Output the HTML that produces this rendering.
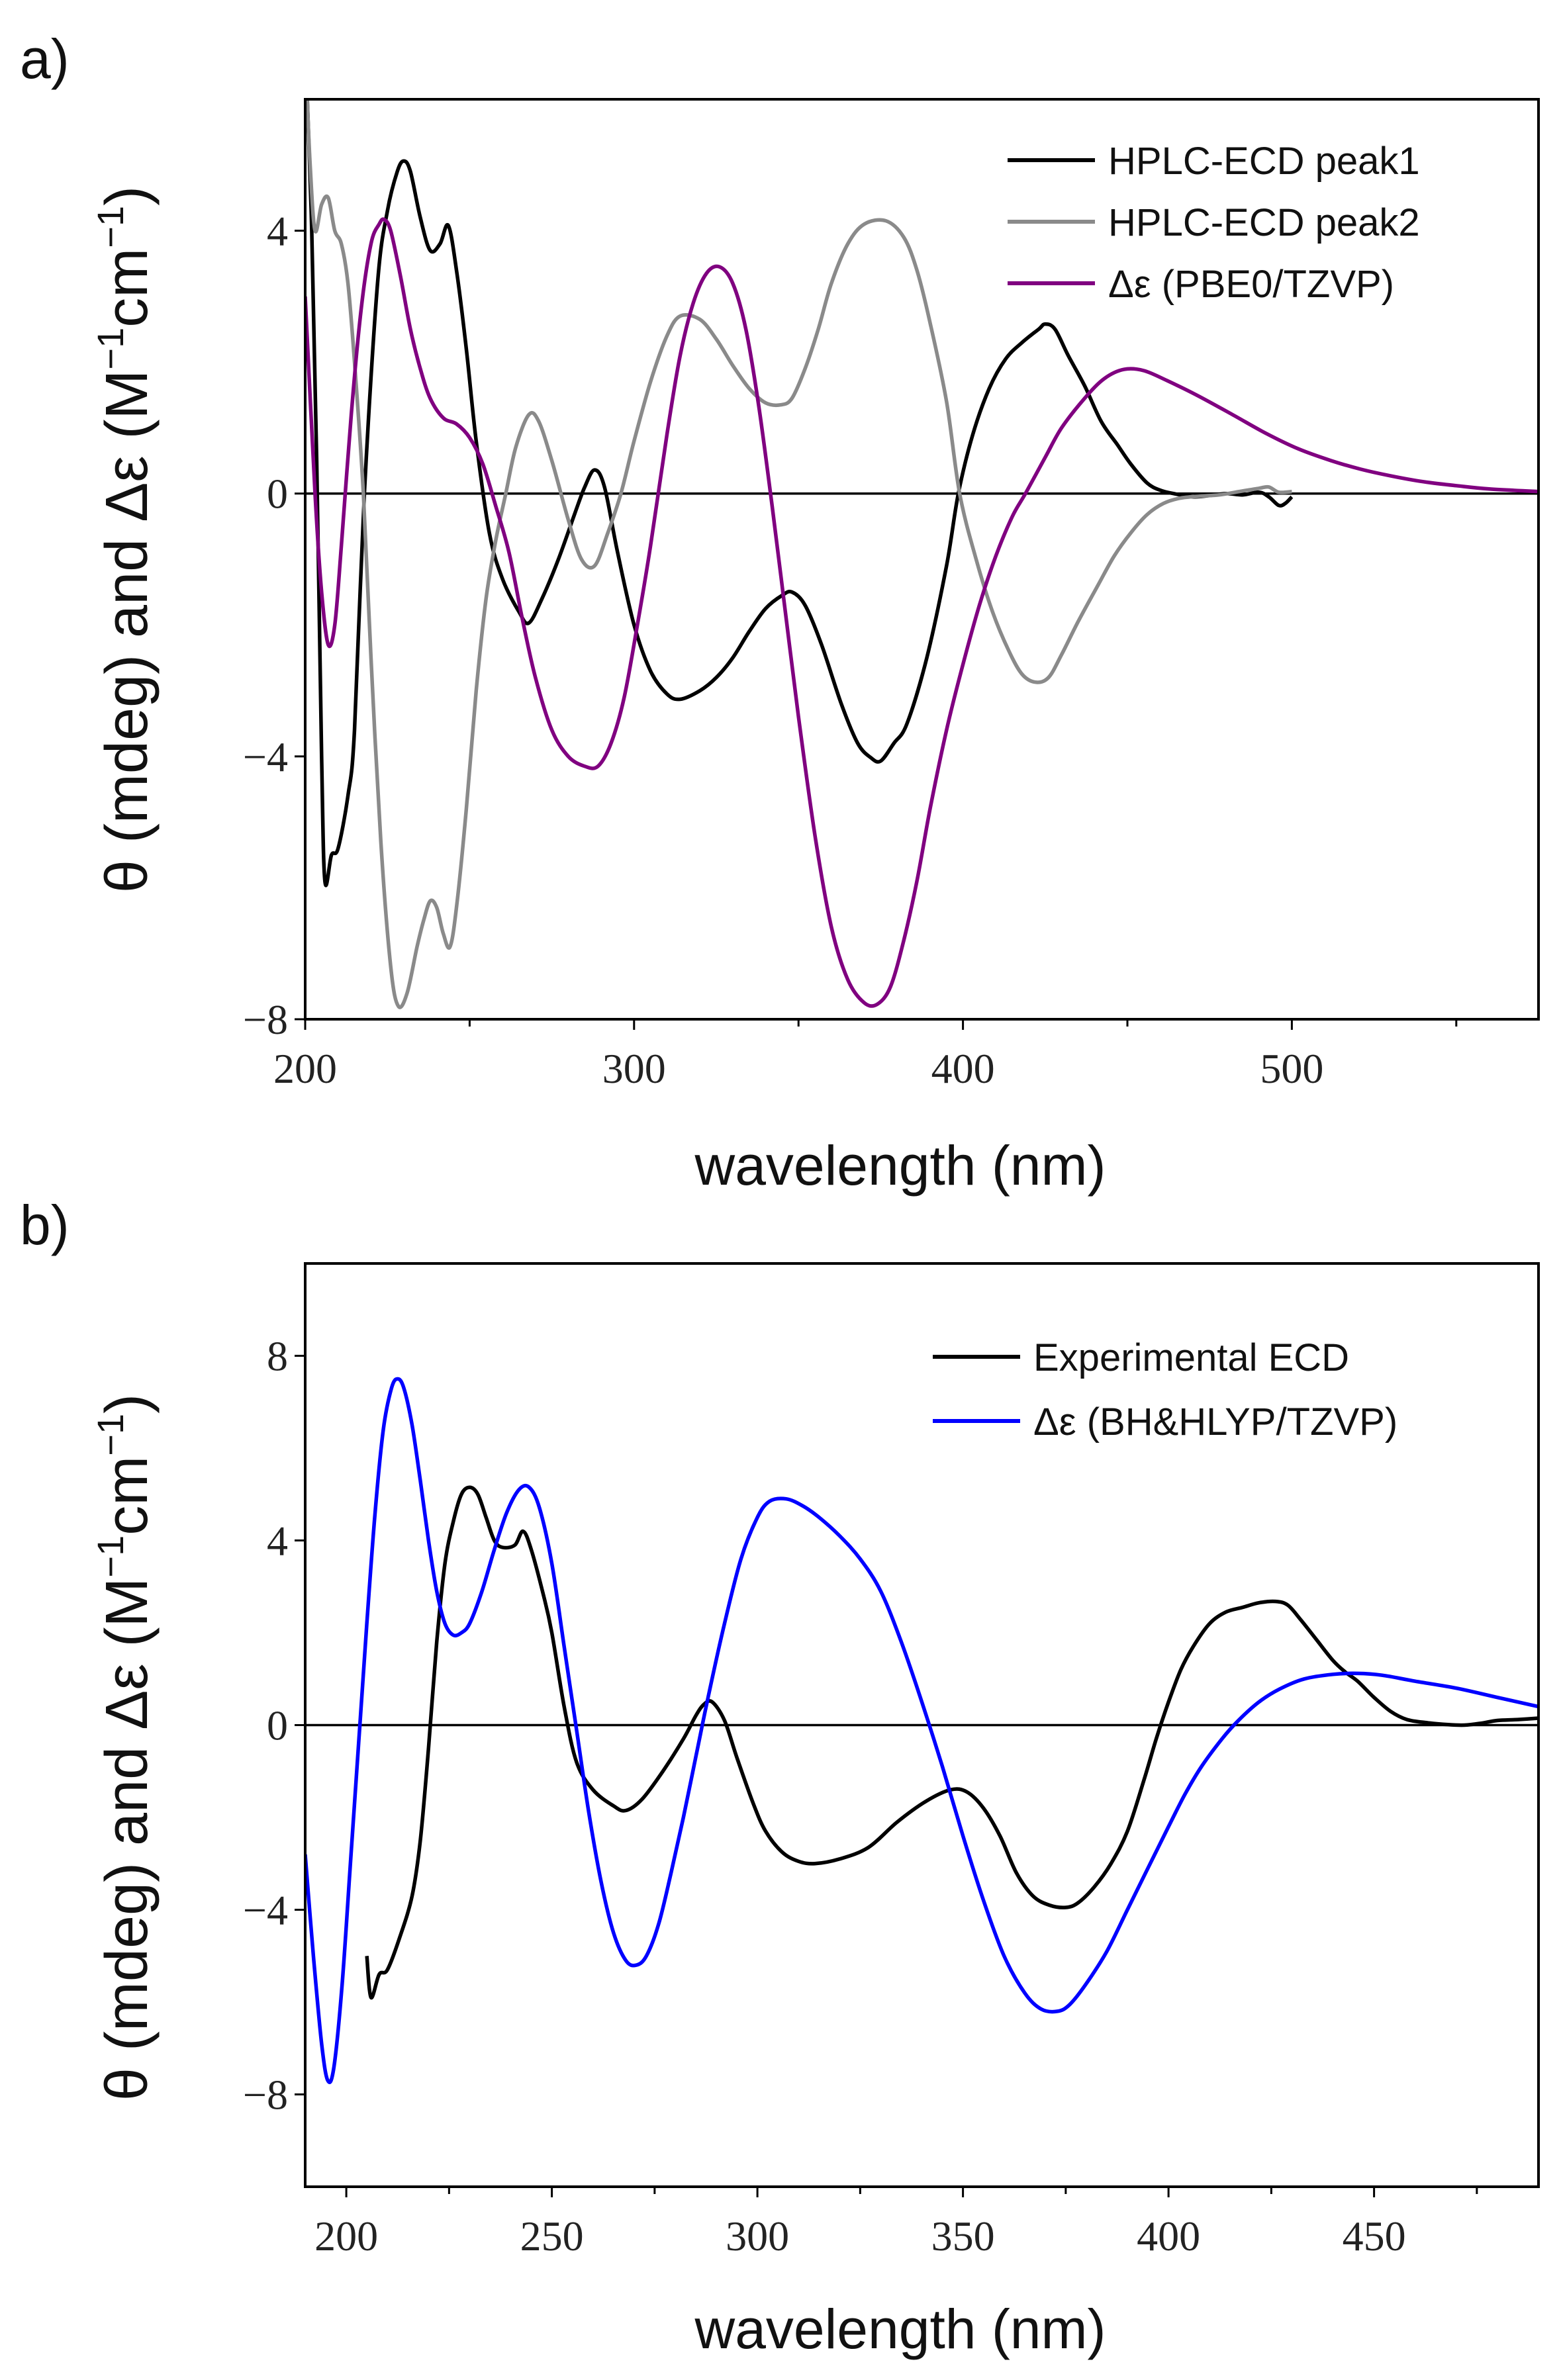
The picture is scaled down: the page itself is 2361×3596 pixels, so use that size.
<!DOCTYPE html>
<html><head><meta charset="utf-8"><style>
html,body{margin:0;padding:0;background:#fff;}
svg{display:block;}
.tick{font-family:"Liberation Serif",serif;font-size:64px;fill:#222;}
.title{font-family:"Liberation Sans",sans-serif;font-size:84px;fill:#111;}
.ytitle{font-family:"Liberation Sans",sans-serif;font-size:90px;fill:#111;}
.leg{font-family:"Liberation Sans",sans-serif;font-size:58px;fill:#111;}
</style></head><body>
<svg id="fig" width="2361" height="3596" viewBox="0 0 2361 3596" xmlns="http://www.w3.org/2000/svg">
<defs>
<clipPath id="clipA"><rect x="461" y="150" width="1863" height="1390"/></clipPath>
<clipPath id="clipB"><rect x="461" y="1909" width="1863" height="1395"/></clipPath>
</defs>
<text x="30" y="118" class="title">a)</text>
<text x="30" y="1880" class="title">b)</text>
<g id="panelA"></g>
<g id="panelB"></g>
<text x="1360" y="1790" text-anchor="middle" class="title">wavelength (nm)</text>
<text x="1360" y="3548" text-anchor="middle" class="title">wavelength (nm)</text>
<text transform="translate(222,815) rotate(-90)" text-anchor="middle" class="ytitle">θ (mdeg) and Δε (M<tspan font-size="56" dy="-36">−1</tspan><tspan dy="36">cm</tspan><tspan font-size="56" dy="-36">−1</tspan><tspan dy="36">)</tspan></text>
<text transform="translate(222,2640) rotate(-90)" text-anchor="middle" class="ytitle">θ (mdeg) and Δε (M<tspan font-size="56" dy="-36">−1</tspan><tspan dy="36">cm</tspan><tspan font-size="56" dy="-36">−1</tspan><tspan dy="36">)</tspan></text>
</svg>
<script>
// ---- Panel a data ----
const aXTicks = [200, 300, 400, 500];
const aYTicks = [-8, -4, 0, 4];
const peak1X = [200.3,202,203.5,205,206,208,210,213,215,218,222,225,228,230,232,235,238,241,243.5,246,249,252,256,260,265,268,272,277,282,285,288,291,295,300,305,310,314,320,325,330,335,340,345,348,352,357,363,368,372,375,379,383,389,395,398.6,403,408,413,418,423,425,428,432,437,442,447,451,456,460,464,470,475,480,485,490,493,496,498,500];
const peak1Y = [6.5,4,0.5,-4,-5.9,-5.5,-5.4,-4.6,-3.6,0,3.2,4.3,4.9,5.06,4.9,4.2,3.7,3.8,4.08,3.4,2.2,0.8,-0.6,-1.3,-1.8,-1.97,-1.6,-1,-0.3,0.1,0.36,0.1,-0.9,-2,-2.7,-3.05,-3.13,-3,-2.8,-2.5,-2.1,-1.75,-1.55,-1.5,-1.7,-2.3,-3.2,-3.8,-4.02,-4.07,-3.8,-3.5,-2.5,-1.1,0,0.9,1.6,2.05,2.3,2.5,2.58,2.5,2.1,1.64,1.1,0.74,0.45,0.16,0.05,0,-0.05,-0.03,0,-0.02,0.02,-0.05,-0.18,-0.15,-0.05];
const peak2X = [200.2,201.5,203,205,207,209,211,213,215,217.7,220,223,226,228.3,231,234,236,238,240,242,244,246,249,252,255,258,261,264,268,271,275,280,284,288,292,296,300,305,310,314,320,325,330,335,340,344.6,348,352,356,360,365,370,376.6,382,386,390,395,399,404,409,414,418,422,426,430,435,441,446,451,456,461,466,472,478,484,490,493,496,500];
const peak2Y = [6.5,5,4,4.4,4.5,4,3.8,3.2,2,0,-2.5,-5.3,-7.2,-7.8,-7.6,-6.9,-6.5,-6.2,-6.3,-6.7,-6.9,-6.3,-4.8,-3,-1.6,-0.7,0,0.7,1.2,1.1,0.5,-0.4,-1,-1.1,-0.6,0,0.8,1.7,2.4,2.7,2.65,2.35,1.95,1.6,1.38,1.35,1.45,1.9,2.5,3.2,3.8,4.1,4.15,3.9,3.4,2.6,1.4,0,-1,-1.8,-2.4,-2.75,-2.87,-2.8,-2.45,-1.95,-1.4,-0.95,-0.6,-0.32,-0.15,-0.07,-0.04,-0.02,0.03,0.08,0.1,0.02,0.03];
const pbe0X = [200,203,205,207,209,211,214,217,220,222.5,224,226,229,232,235,238,242,246,250,254,258,262,266,270,275,280,285,289,293,297,301,305,310,314,318,322,326,330,334,338,342,346,350,355,360,365,370,374,378,382,386,390,395,400,405,410,415,419,425,430,437,443,449,455,462,471,482,492,502,512,521,530,540,550,560,575];
const pbe0Y = [3,0,-1.5,-2.3,-2.0,-0.8,1.2,2.8,3.8,4.1,4.17,4.0,3.3,2.5,1.9,1.45,1.15,1.06,0.85,0.45,-0.2,-0.9,-1.9,-2.8,-3.6,-4.0,-4.15,-4.15,-3.8,-3.1,-2.0,-0.8,0.9,2.1,2.9,3.35,3.45,3.2,2.5,1.3,-0.2,-1.8,-3.4,-5.2,-6.6,-7.4,-7.75,-7.77,-7.5,-6.8,-5.9,-4.8,-3.6,-2.6,-1.7,-0.95,-0.35,0,0.55,1.0,1.45,1.75,1.89,1.87,1.72,1.5,1.2,0.92,0.68,0.5,0.37,0.27,0.18,0.12,0.07,0.03];
// ---- Panel b data ----
const bXTicks = [200, 250, 300, 350, 400, 450];
const bYTicks = [-8, -4, 0, 4, 8];
const expX = [205,206,208,210,213,216,218,220,222,224,226,228,230,232,234,236,238,241,243,245,248,250,253,256,260,265,268,272,277,282,285,287,289,292,295,299,302,306,310,314,320,327,334,341,347,351,355,359,363,367,371,375,378,382,386,390,394,397,400,403,406,410,414,418,422,426,429,432,436,440,443,446,450,454,458,463,468,472,476,480,485,490];
const expY = [-5,-5.9,-5.4,-5.3,-4.6,-3.7,-2.5,-0.5,1.8,3.5,4.4,5,5.15,5.0,4.5,4.0,3.85,3.9,4.2,3.8,2.8,2.0,0.4,-0.8,-1.4,-1.75,-1.85,-1.6,-1,-0.3,0.2,0.45,0.5,0.1,-0.7,-1.7,-2.3,-2.75,-2.95,-3.0,-2.9,-2.65,-2.1,-1.65,-1.4,-1.45,-1.8,-2.4,-3.2,-3.7,-3.9,-3.95,-3.85,-3.5,-3.0,-2.3,-1.2,-0.3,0.5,1.2,1.7,2.2,2.45,2.55,2.65,2.68,2.6,2.3,1.85,1.4,1.15,0.95,0.6,0.3,0.12,0.05,0.01,0.0,0.04,0.1,0.12,0.15];
const bhX = [190,192,194,195.5,197,199,201,203,205,207,209,211,212.5,214,216,218,220,222,224,226,228,230,233,236,239,242,244.5,247,250,253,256,259,262,265,268,270.5,273,276,279,282,285,288,292,296,300,303,307,311,315,320,325,330,335,340,345,350,355,360,365,369,373,376,380,385,390,395,400,404,408,413,417,422,427,433,440,446,452,460,470,480,490];
const bhY = [-2.8,-5,-6.9,-7.7,-7.4,-5.6,-3,-0.4,2.2,4.6,6.4,7.3,7.5,7.3,6.5,5.3,4,2.9,2.2,1.95,2,2.2,2.9,3.8,4.6,5.1,5.15,4.7,3.5,1.7,-0.1,-1.9,-3.4,-4.5,-5.1,-5.2,-5.0,-4.3,-3.2,-2,-0.7,0.6,2.2,3.6,4.5,4.85,4.9,4.75,4.5,4.1,3.6,2.9,1.8,0.5,-0.9,-2.4,-3.8,-5,-5.8,-6.15,-6.2,-6.05,-5.6,-4.9,-4.0,-3.1,-2.2,-1.5,-0.9,-0.3,0.1,0.5,0.78,1.0,1.1,1.12,1.08,0.95,0.8,0.6,0.4];

const NS = 'http://www.w3.org/2000/svg';
function mk(tag, attrs, parent){const e=document.createElementNS(NS,tag);for(const k in attrs)e.setAttribute(k,attrs[k]);parent.appendChild(e);return e;}
function smoothPath(xs, ys, sx, sy){
  const p = xs.map((x,i)=>[sx(x), sy(ys[i])]);
  let d = 'M'+p[0][0].toFixed(1)+','+p[0][1].toFixed(1);
  for(let i=0;i<p.length-1;i++){
    const p0=p[Math.max(i-1,0)], p1=p[i], p2=p[i+1], p3=p[Math.min(i+2,p.length-1)];
    const c1=[p1[0]+(p2[0]-p0[0])/6, p1[1]+(p2[1]-p0[1])/6];
    const c2=[p2[0]-(p3[0]-p1[0])/6, p2[1]-(p3[1]-p1[1])/6];
    d+=' C'+c1[0].toFixed(1)+','+c1[1].toFixed(1)+' '+c2[0].toFixed(1)+','+c2[1].toFixed(1)+' '+p2[0].toFixed(1)+','+p2[1].toFixed(1);
  }
  return d;
}
function panel(g, cfg){
  const sx = v => cfg.L + (v-cfg.x0)/(cfg.x1-cfg.x0)*(cfg.R-cfg.L);
  const sy = v => cfg.B - (v-cfg.y0)/(cfg.y1-cfg.y0)*(cfg.B-cfg.T);
  const z = mk('line',{x1:cfg.L,x2:cfg.R,y1:sy(0),y2:sy(0),stroke:'#000','stroke-width':3.5},g);
  
  
  cfg.series.forEach(s=>{
    const p = mk('path',{d:smoothPath(s.x,s.y,sx,sy),fill:'none',stroke:s.color,'stroke-width':5.5,'stroke-linejoin':'round','clip-path':cfg.clip},g);
    
    
  });
  const f = mk('rect',{x:cfg.L,y:cfg.T,width:cfg.R-cfg.L,height:cfg.B-cfg.T,fill:'none',stroke:'#000','stroke-width':4},g);
  
  
  for(let v=cfg.minorX0; v<=cfg.x1; v+=cfg.minorStep){
    const major = cfg.xTicks.includes(v);
    const t = mk('line',{x1:sx(v),x2:sx(v),y1:cfg.B,y2:cfg.B+(major?16:11),stroke:'#000','stroke-width':3},g);
    
    
  }
  cfg.xTicks.forEach(v=>{
    const t = mk('text',{x:sx(v),y:cfg.B+cfg.xLabDy,'text-anchor':'middle',class:'tick'},g);
    t.textContent = v;
    
    
  });
  cfg.yTicks.forEach(v=>{
    const t = mk('line',{x1:cfg.L-16,x2:cfg.L,y1:sy(v),y2:sy(v),stroke:'#000','stroke-width':3},g);
    
    
    const l = mk('text',{x:cfg.L-26,y:sy(v)+22,'text-anchor':'end',class:'tick'},g);
    l.textContent = v<0 ? '−'+Math.abs(v) : String(v);
    
    
  });
  cfg.series.forEach((s,i)=>{
    const y = cfg.legY + i*cfg.legGap;
    const ln = mk('line',{x1:cfg.legX,x2:cfg.legX+132,y1:y,y2:y,stroke:s.color,'stroke-width':6},g);
    
    
    const tx = mk('text',{x:cfg.legX+152,y:y+21,class:'leg'},g);
    tx.textContent = s.label;
    
    
  });
}
panel(document.getElementById('panelA'),{
  L:461,R:2324,T:150,B:1540,x0:200,x1:575,y0:-8,y1:6,clip:'url(#clipA)',
  xTicks:aXTicks,yTicks:aYTicks,minorX0:200,minorStep:50,xLabDy:96,
  legX:1522,legY:242,legGap:93,
  series:[
    {name:'hplc-ecd-peak1',label:'HPLC-ECD peak1',color:'#000000',x:peak1X,y:peak1Y},
    {name:'hplc-ecd-peak2',label:'HPLC-ECD peak2',color:'#8a8a8a',x:peak2X,y:peak2Y},
    {name:'pbe0-tzvp',label:'Δε (PBE0/TZVP)',color:'#800080',x:pbe0X,y:pbe0Y}
  ]
});
panel(document.getElementById('panelB'),{
  L:461,R:2324,T:1909,B:3304,x0:190,x1:490,y0:-10,y1:10,clip:'url(#clipB)',
  xTicks:bXTicks,yTicks:bYTicks,minorX0:200,minorStep:25,xLabDy:96,
  legX:1409,legY:2050,legGap:97,
  series:[
    {name:'experimental-ecd',label:'Experimental ECD',color:'#000000',x:expX,y:expY},
    {name:'bhhlyp-tzvp',label:'Δε (BH&HLYP/TZVP)',color:'#0000ff',x:bhX,y:bhY}
  ]
});
</script>
</body></html>
